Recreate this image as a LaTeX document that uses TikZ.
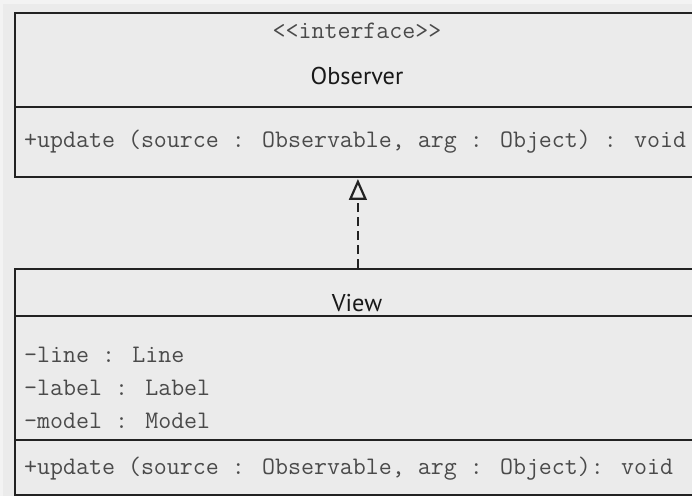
\documentclass[tikz,border=0pt]{standalone}
\usepackage{fontspec}
\setsansfont{PT Sans}
\usetikzlibrary{arrows.meta}
\definecolor{bgc}{HTML}{EBEBEB}
\definecolor{bgl}{HTML}{F3F3F3}
\definecolor{edge}{HTML}{222222}
\definecolor{mtext}{HTML}{4A4A4A}
\begin{document}
\begin{tikzpicture}[x=1pt,y=-1pt,
  umlbox/.style={draw=edge, line width=1.8pt, rectangle, inner sep=0pt, anchor=north west, minimum width=686pt},
  mono/.style={font=\fontsize{25.2}{28}\selectfont\ttfamily, text=mtext, inner sep=0pt},
  title/.style={font=\fontsize{24.3}{28}\selectfont\sffamily, text=black!90, inner sep=0pt, anchor=base},
  divider/.style={draw=edge, line width=1.8pt},
  realize/.style={draw=edge, line width=2.2pt, dash pattern=on 9pt off 5pt},
  openhead/.style={draw=edge, line width=2.2pt, line join=miter}
]
\useasboundingbox (0,0) rectangle (692,496);
\clip (0,0) rectangle (692,496);
\fill[bgl] (0,0) rectangle (692,496);
\fill[bgc] (3,4) rectangle (692,496);

% Observer interface
\node[umlbox, minimum height=164pt] (obs) at (14,12) {};
\draw[divider] (14,107) -- (700,107);
\node[mono, anchor=base] (stereo) at (357,38) {<\kern0pt<interface>\kern0pt>};
\node[title] (obsname) at (357,84) {Observer};
\node[mono, anchor=base west] (obsop) at (24,147) {+update (source : Observable, arg : Object) : void};

% View class
\node[umlbox, minimum height=226pt] (view) at (14,268) {};
\draw[divider] (14,316) -- (700,316);
\draw[divider] (14,440) -- (700,440);
\node[title] (viewname) at (357,311) {View};
\node[mono, anchor=base west] (attr1) at (24,362) {-line : Line};
\node[mono, anchor=base west] (attr2) at (24,395) {-label : Label};
\node[mono, anchor=base west] (attr3) at (24,428) {-model : Model};
\node[mono, anchor=base west] (viewop) at (24,474) {+update (source : Observable, arg : Object): void};

% realization (dashed line with open triangle head)
\coordinate (tip) at ([yshift=-4pt]obs.south);
\coordinate (headbase) at ([yshift=-21pt]obs.south);
\draw[realize] (view.north) -- (headbase);
\draw[openhead] (tip) -- ([xshift=-7.5pt]headbase) -- ([xshift=7.5pt]headbase) -- cycle;
\end{tikzpicture}
\end{document}
